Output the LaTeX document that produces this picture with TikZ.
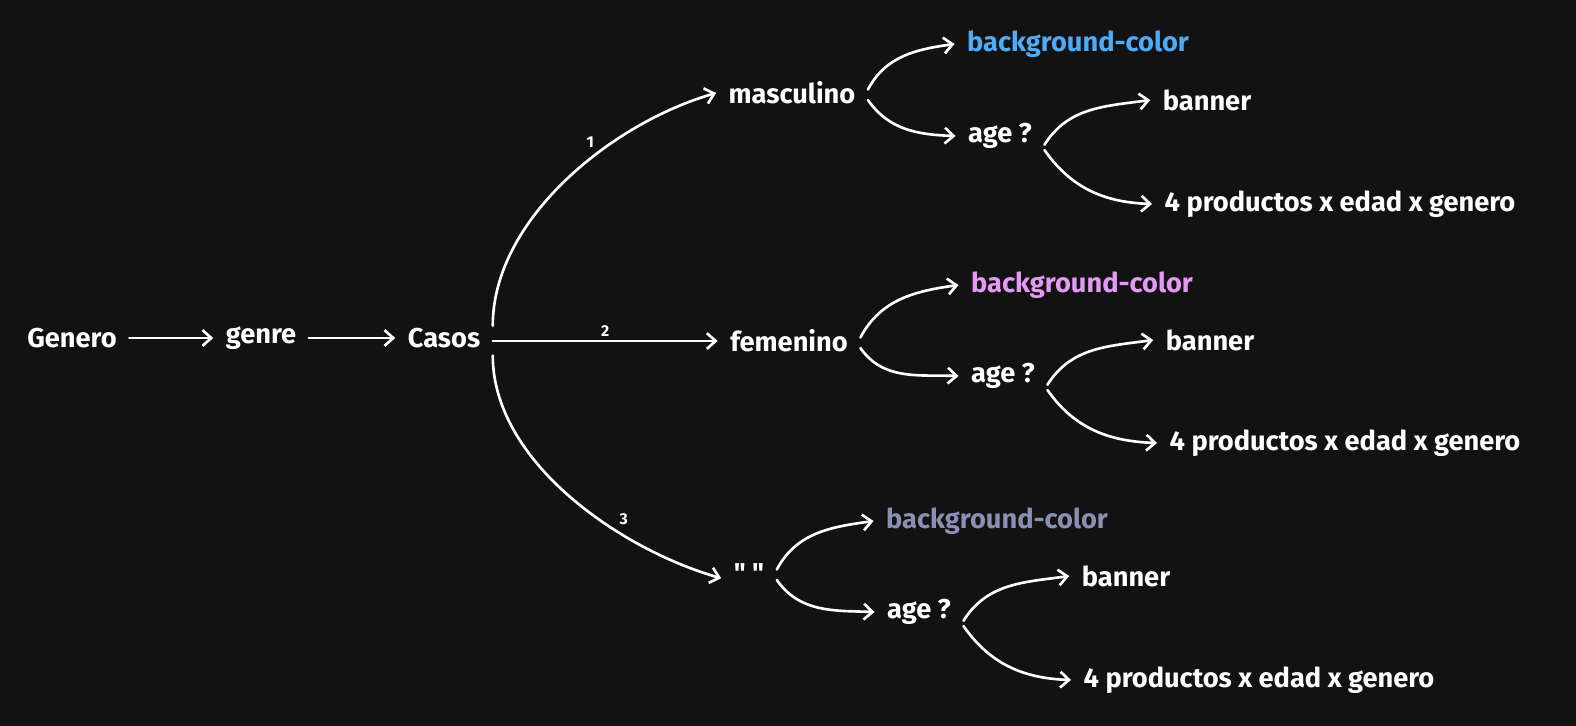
\documentclass[tikz,border=0pt]{standalone}
\usepackage{fontspec}
\setmainfont{Fira Sans}
\newfontfamily\quotefont{Fira Sans}[Ligatures=TeXOff]
\usetikzlibrary{arrows.meta}
\definecolor{canvas}{HTML}{121212}
\definecolor{bgblue}{HTML}{4DABF7}
\definecolor{bgpink}{HTML}{E599F7}
\definecolor{bggray}{HTML}{8A90B4}
\begin{document}
\begin{tikzpicture}[x=0.02cm,y=-0.02cm,
  txt/.style={text=white,font=\fontsize{15.5}{18}\selectfont\bfseries,inner xsep=7pt,inner ysep=2pt},
  num/.style={text=white,font=\fontsize{9}{10}\selectfont\bfseries,inner sep=2pt},
  link/.style={draw=white,line width=1.5pt,line cap=round,
    -{Straight Barb[length=5pt,width=9pt]}}]
\useasboundingbox (0,0) rectangle (1576,726);
\fill[canvas] (0,0) rectangle (1576,726);

% main chain
\node[txt] (genero) at (72,338) {Genero};
\node[txt] (genre) at (261,338) {genre};
\node[txt] (casos) at (444,338) {Casos};
\draw[link] (genero) -- (genre);
\draw[link] (genre) -- (casos);

% cases
\node[txt] (masc) at (792,93) {masculino};
\node[txt] (fem) at (789,341) {femenino};
\node[txt] (vacio) at (749,573) {\quotefont" "};
\draw[link] ([yshift=7pt]casos.east) to[out=90,in=196,looseness=0.85]
  node[num,pos=0.62,above left]{1} (masc.west);
\draw[link] (casos.east |- fem.west) -- (fem.west)
  node[num,midway,above]{2};
\draw[link] ([yshift=-10pt]casos.east) to[out=-90,in=164,looseness=0.85]
  node[num,pos=0.66,above right]{3} ([yshift=-3pt]vacio.west);

% masculino
\node[txt,text=bgblue] (bg1) at (1078,44) {background-color};
\node[txt] (age1) at (1000,136) {age ?};
\node[txt] (ban1) at (1207,100) {banner};
\node[txt] (prod1) at (1340,204) {4 productos x edad x genero};
\draw[link] ([yshift=2pt]masc.east) to[out=62,in=188] (bg1.west);
\draw[link] ([yshift=-4pt]masc.east) to[out=-55,in=178] (age1.west);
\draw[link] ([yshift=-5pt]age1.east) to[out=58,in=188] (ban1.west);
\draw[link] ([yshift=-8pt]age1.east) to[out=-55,in=178] (prod1.west);

% femenino
\node[txt,text=bgpink] (bg2) at (1082,285) {background-color};
\node[txt] (age2) at (1003,376) {age ?};
\node[txt] (ban2) at (1210,340) {banner};
\node[txt] (prod2) at (1345,443) {4 productos x edad x genero};
\draw[link] ([yshift=2pt]fem.east) to[out=62,in=188] (bg2.west);
\draw[link] ([yshift=-4pt]fem.east) to[out=-55,in=178] (age2.west);
\draw[link] ([yshift=-5pt]age2.east) to[out=58,in=188] (ban2.west);
\draw[link] ([yshift=-8pt]age2.east) to[out=-55,in=178] (prod2.west);

% vacio
\node[txt,text=bggray] (bg3) at (997,521) {background-color};
\node[txt] (age3) at (919,612) {age ?};
\node[txt] (ban3) at (1126,576) {banner};
\node[txt] (prod3) at (1259,680) {4 productos x edad x genero};
\draw[link] ([yshift=2pt]vacio.east) to[out=62,in=188] (bg3.west);
\draw[link] ([yshift=-4pt]vacio.east) to[out=-55,in=178] (age3.west);
\draw[link] ([yshift=-5pt]age3.east) to[out=58,in=188] (ban3.west);
\draw[link] ([yshift=-8pt]age3.east) to[out=-55,in=178] (prod3.west);
\end{tikzpicture}
\end{document}
